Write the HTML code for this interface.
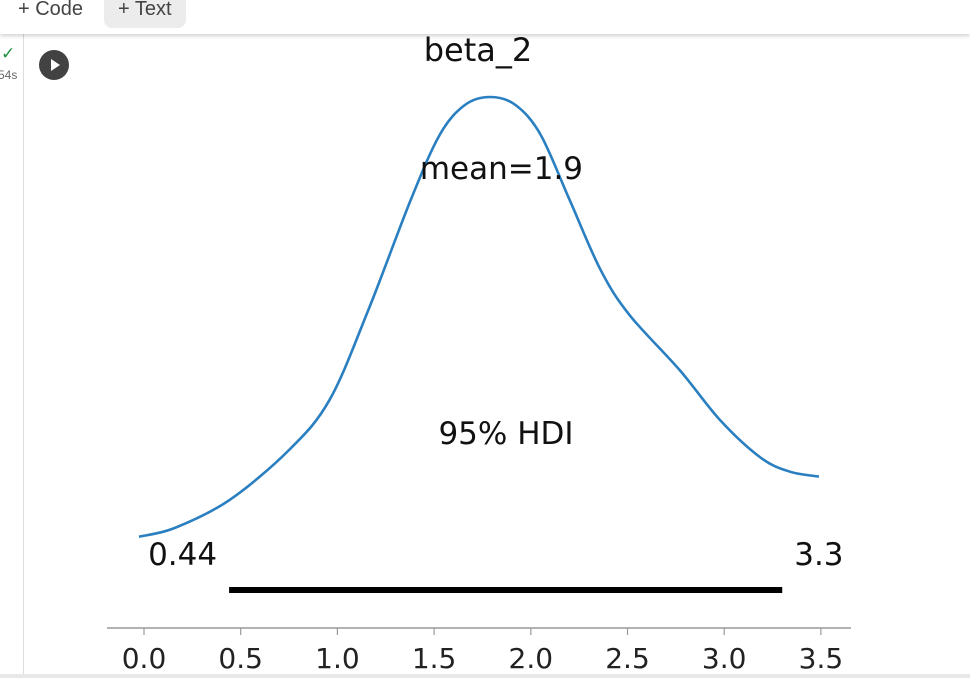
<!DOCTYPE html>
<html><head><meta charset="utf-8"><style>
body{margin:0;width:970px;height:678px;overflow:hidden;background:#fff;font-family:"Liberation Sans",sans-serif;position:relative}
.tb{position:absolute;left:0;top:0;width:970px;height:34px;background:#fff;box-shadow:0 2px 4px rgba(0,0,0,.18);z-index:2}
.btn{position:absolute;top:-6px;font-size:20px;color:#444;padding:4px 14px;border-radius:0 0 8px 8px}
</style></head><body>
<div class="tb">
<div class="btn" style="left:4px">+ Code</div>
<div class="btn" style="left:104px;background:#ececec;height:26px">+ Text</div>
</div>
<div style="position:absolute;left:23px;top:34px;width:1px;height:644px;background:#ddd"></div>
<div style="position:absolute;left:1px;top:44px;color:#1e8e3e;font-size:17px">✓</div>
<div style="position:absolute;left:-2px;top:68px;color:#666;font-size:12px">54s</div>
<div style="position:absolute;left:39px;top:50px;width:30px;height:30px;border-radius:50%;background:#424242"><div style="position:absolute;left:12px;top:9px;border-left:9px solid #fff;border-top:6px solid transparent;border-bottom:6px solid transparent"></div></div>
<div style="position:absolute;left:0;top:674px;width:970px;height:4px;background:#e8e8e8"></div>
<svg id="c" width="970" height="678" style="position:absolute;left:0;top:0" font-family="DejaVu Sans, sans-serif"></svg>
<script>
const xs=[-0.026,0.16,0.44,0.75,0.96,1.16,1.38,1.53,1.66,1.79,1.92,2.05,2.20,2.36,2.51,2.77,2.98,3.19,3.34,3.49];
const dens=[0.054,0.063,0.091,0.142,0.193,0.284,0.396,0.462,0.492,0.500,0.492,0.462,0.396,0.325,0.279,0.223,0.172,0.134,0.120,0.115];
const ticks=[0,0.5,1,1.5,2,2.5,3,3.5];
const tickLabels=["0.0","0.5","1.0","1.5","2.0","2.5","3.0","3.5"];
const hdi=[0.44,3.3];
const hdiLabels=["0.44","3.3"];
const meanVal=1.9;
const X=v=>144+v*193.4, Y=d=>590-d*986;
const s=document.getElementById('c'),NS='http://www.w3.org/2000/svg';
function mk(t,a,txt){const e=document.createElementNS(NS,t);for(const k in a)e.setAttribute(k,a[k]);if(txt!=null)e.textContent=txt;s.appendChild(e);return e;}
let p=xs.map((x,i)=>[X(x),Y(dens[i])]);
let d='M'+p[0][0]+','+p[0][1];
for(let i=0;i<p.length-1;i++){const a=p[i-1]||p[i],b=p[i],c=p[i+1],e=p[i+2]||c;
d+=` C${b[0]+(c[0]-a[0])/6},${b[1]+(c[1]-a[1])/6} ${c[0]-(e[0]-b[0])/6},${c[1]-(e[1]-b[1])/6} ${c[0]},${c[1]}`;}
let el=mk('path',{d:d,fill:'none',stroke:'#2a7fc0','stroke-width':2.6});

el=mk('line',{x1:107,x2:851,y1:628,y2:628,stroke:'#999','stroke-width':1.5});

ticks.forEach((t,i)=>{el=mk('line',{x1:X(t),x2:X(t),y1:628,y2:635,stroke:'#999','stroke-width':1.2});

el=mk('text',{x:X(t),y:668,'font-size':28,'text-anchor':'middle',fill:'#222'},tickLabels[i]);
});
el=mk('line',{x1:X(hdi[0]),x2:X(hdi[1]),y1:590,y2:590,stroke:'#000','stroke-width':6});

el=mk('text',{x:X(hdi[0])-12,y:565,'font-size':31,'text-anchor':'end',fill:'#111'},hdiLabels[0]);

el=mk('text',{x:X(hdi[1])+12,y:565,'font-size':31,'text-anchor':'start',fill:'#111'},hdiLabels[1]);

el=mk('text',{x:506,y:444,'font-size':31,'text-anchor':'middle',fill:'#111'},'95% HDI');

el=mk('text',{x:X(meanVal)-10,y:179,'font-size':31,'text-anchor':'middle',fill:'#111'},'mean='+meanVal);

el=mk('text',{x:478,y:61,'font-size':32,'text-anchor':'middle',fill:'#111'},'beta_2');

</script>
</body></html>
